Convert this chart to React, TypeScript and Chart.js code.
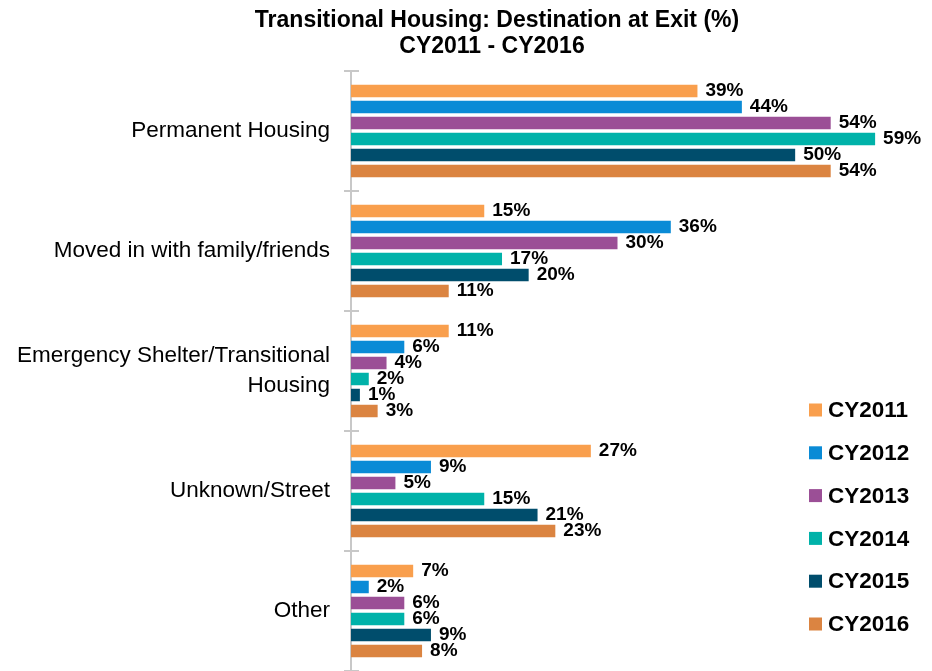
import React, { useEffect, useRef } from "react";
import { Chart, registerables } from "chart.js";

Chart.register(...registerables);

const titleLines = ["Transitional Housing: Destination at Exit (%)", "CY2011 - CY2016"];
const categories: (string | string[])[] = [
  "Permanent Housing",
  "Moved in with family/friends",
  ["Emergency Shelter/Transitional", "Housing"],
  "Unknown/Street",
  "Other",
];
const seriesNames = ["CY2011", "CY2012", "CY2013", "CY2014", "CY2015", "CY2016"];
const seriesColors = ["#F99F4D", "#0A8BD6", "#9B4F96", "#00B2A9", "#004D6C", "#DB8441"];
const cy2011 = [39, 15, 11, 27, 7];
const cy2012 = [44, 36, 6, 9, 2];
const cy2013 = [54, 30, 4, 5, 6];
const cy2014 = [59, 17, 2, 15, 6];
const cy2015 = [50, 20, 1, 21, 9];
const cy2016 = [54, 11, 3, 23, 8];
const seriesValues = [cy2011, cy2012, cy2013, cy2014, cy2015, cy2016];

const overlayPlugin = {
  id: "overlay",
  afterDraw(chart: any) {
    const ctx = chart.ctx;
    const area = chart.chartArea;
    ctx.save();
    // title
    ctx.fillStyle = "#000";
    ctx.font = "bold 23px 'Liberation Sans Narrow', 'Liberation Sans', sans-serif";
    ctx.textAlign = "center";
    ctx.textBaseline = "middle";
    ctx.fillText(titleLines[0], 497, 21);
    ctx.fillText(titleLines[1], 492, 47);

    // tick crosses on the category axis
    ctx.strokeStyle = "#C8C8C8";
    ctx.lineWidth = 2;
    const n = categories.length;
    const band = (area.bottom - area.top) / n;
    for (let i = 0; i <= n; i++) {
      const y = Math.round(area.top + band * i);
      ctx.beginPath();
      ctx.moveTo(area.left - 7, y);
      ctx.lineTo(area.left + 8, y);
      ctx.stroke();
    }

    // data labels
    ctx.font = "bold 19px 'Liberation Sans', Arial, sans-serif";
    ctx.textAlign = "left";
    ctx.textBaseline = "middle";
    ctx.fillStyle = "#000";
    chart.data.datasets.forEach((ds: any, di: number) => {
      const meta = chart.getDatasetMeta(di);
      meta.data.forEach((el: any, i: number) => {
        ctx.fillText(ds.data[i] + "%", el.x + 8, el.y);
      });
    });

    // legend
    ctx.font = "bold 22.5px 'Liberation Sans', Arial, sans-serif";
    seriesNames.forEach((name, i) => {
      const cy = 410 + i * 42.8;
      ctx.fillStyle = seriesColors[i];
      ctx.fillRect(809, cy - 6.5, 13, 13);
      ctx.fillStyle = "#000";
      ctx.fillText(name, 828, cy + 1);
    });
    ctx.restore();
  },
};

export default function App() {
  const ref = useRef<HTMLCanvasElement>(null);
  useEffect(() => {
    document.body.style.margin = "0";
    const chart = new Chart(ref.current!, {
      type: "bar",
      data: {
        labels: categories,
        datasets: seriesNames.map((name, i) => ({
          label: name,
          data: seriesValues[i],
          backgroundColor: seriesColors[i],
          borderWidth: 0,
          categoryPercentage: 0.8,
          barPercentage: 0.78,
        })),
      },
      options: {
        indexAxis: "y",
        animation: false,
        responsive: false,
        layout: { padding: { top: 71, right: 48, bottom: 0, left: 0 } },
        plugins: {
          legend: { display: false },
          title: { display: false },
          tooltip: { enabled: false },
        },
        scales: {
          x: { display: false, min: 0, max: 60 },
          y: {
            afterFit: (s: any) => {
              s.width = 351;
              s.paddingTop = 0;
              s.paddingBottom = 0;
            },
            grid: { display: false, drawTicks: false },
            border: { display: true, color: "#C8C8C8", width: 2 },
            ticks: {
              color: "#000",
              padding: 21,
              font: { family: "'Liberation Sans', Arial, sans-serif", size: 22.5, lineHeight: 1.33 },
            },
          },
        },
      },
      plugins: [overlayPlugin],
    });
    return () => chart.destroy();
  }, []);
  return (
    <div style={{ width: 932, height: 671 }}>
      <canvas ref={ref} width={932} height={671} style={{ display: "block" }} />
    </div>
  );
}
